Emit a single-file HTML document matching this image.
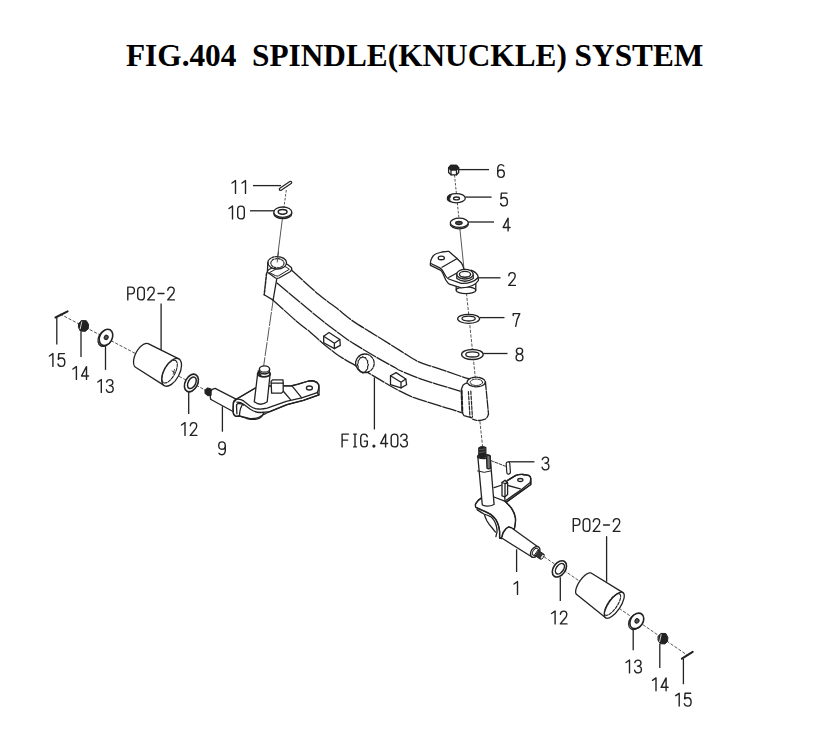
<!DOCTYPE html>
<html><head><meta charset="utf-8">
<style>
html,body{margin:0;padding:0;background:#fff;width:836px;height:744px;overflow:hidden}
#t{position:absolute;left:126px;top:39.7px;font-family:"Liberation Serif",serif;font-weight:bold;font-size:31.3px;white-space:pre;color:#000;line-height:1}
svg{position:absolute;left:0;top:0}
</style></head><body>
<div id="t">FIG.404  SPINDLE(KNUCKLE) SYSTEM</div>
<svg width="836" height="744" viewBox="0 0 836 744">
<defs>
<g id="d0"><path d="M0.7,3.8 Q0.7,0.6 4,0.6 Q7.3,0.6 7.3,3.8 L7.3,10.2 Q7.3,13.4 4,13.4 Q0.7,13.4 0.7,10.2 Z"/></g>
<g id="d1"><path d="M2,3 L5.5,0.6 L5.5,13.4"/></g>
<g id="d2"><path d="M0.8,3.8 Q1,0.6 4,0.6 Q7.2,0.6 7.2,3.9 Q7.2,6 5,8.3 L0.7,13.4 L7.4,13.4"/></g>
<g id="d3"><path d="M0.8,3 Q1.4,0.6 4,0.6 Q7,0.6 7,3.6 Q7,6.6 3.4,6.6 Q7.4,6.6 7.4,10 Q7.4,13.4 4,13.4 Q1.2,13.4 0.6,10.8"/></g>
<g id="d4"><path d="M5.6,13.4 L5.6,0.6 L0.6,10 L7.6,10"/></g>
<g id="d5"><path d="M7,0.6 L1.4,0.6 L0.9,6.2 Q2.2,5 4,5 Q7.4,5 7.4,9.2 Q7.4,13.4 4,13.4 Q1.2,13.4 0.6,11"/></g>
<g id="d6"><path d="M6.8,2 Q6,0.6 4,0.6 Q0.7,0.6 0.7,6 L0.7,10 Q0.7,13.4 4,13.4 Q7.3,13.4 7.3,9.6 Q7.3,6 4,6 Q0.7,6 0.7,9.6"/></g>
<g id="d7"><path d="M0.7,2.5 L0.7,0.6 L7.3,0.6 Q4,6 3.2,13.4"/></g>
<g id="d8"><path d="M4,6.6 Q0.9,6.6 0.9,3.6 Q0.9,0.6 4,0.6 Q7.1,0.6 7.1,3.6 Q7.1,6.6 4,6.6 Q0.6,6.6 0.6,10 Q0.6,13.4 4,13.4 Q7.4,13.4 7.4,10 Q7.4,6.6 4,6.6 Z"/></g>
<g id="d9"><path d="M7.3,4.2 Q7.3,8 4,8 Q0.7,8 0.7,4.3 Q0.7,0.6 4,0.6 Q7.3,0.6 7.3,4.5 L7.3,9 Q7.3,13.4 4,13.4 Q1.8,13.4 1,12"/></g>
<g id="gP"><path d="M0.8,13.4 L0.8,0.6 L4.2,0.6 Q7.4,0.6 7.4,4 Q7.4,7.4 4.2,7.4 L0.8,7.4"/></g>
<g id="gF"><path d="M7.2,0.6 L0.8,0.6 L0.8,13.4 M0.8,6.6 L6.4,6.6"/></g>
<g id="gI"><path d="M1.6,0.6 L4.4,0.6 M3,0.6 L3,13.4 M1.6,13.4 L4.4,13.4"/></g>
<g id="gG"><path d="M7.2,3.2 Q6.8,0.6 4,0.6 Q0.7,0.6 0.7,5 L0.7,9 Q0.7,13.4 4,13.4 Q7.3,13.4 7.3,10.5 L7.3,7.6 L4.4,7.6"/></g>
<g id="gdot"><circle cx="2.4" cy="12.6" r="0.9" fill="#222"/></g>
<g id="gmin"><path d="M1,7 L7,7"/></g>
</defs>

<!-- ========== LABELS ========== -->
<g fill="none" stroke="#222" stroke-width="1.4" stroke-linecap="round" stroke-linejoin="round">
<use href="#d1" x="230" y="180"/><use href="#d1" x="240" y="180"/>
<use href="#d1" x="227" y="205.5"/><use href="#d0" x="237" y="205.5"/>
<use href="#d6" x="497" y="164"/>
<use href="#d5" x="500" y="192.5"/>
<use href="#d4" x="502.5" y="217.5"/>
<use href="#d2" x="508" y="272"/>
<use href="#d7" x="512.5" y="313"/>
<use href="#d8" x="515.5" y="347.5"/>
<use href="#d3" x="541.5" y="456.5"/>
<use href="#gP" x="127" y="286.5"/><use href="#d0" x="137" y="286.5"/><use href="#d2" x="147" y="286.5"/><use href="#gmin" x="157" y="286.5"/><use href="#d2" x="167" y="286.5"/>
<use href="#d1" x="47.4" y="353"/><use href="#d5" x="57.4" y="353"/>
<use href="#d1" x="70.9" y="366"/><use href="#d4" x="80.9" y="366"/>
<use href="#d1" x="95.8" y="379"/><use href="#d3" x="105.8" y="379"/>
<use href="#d1" x="179.5" y="422"/><use href="#d2" x="189.5" y="422"/>
<use href="#d9" x="218" y="441.3"/>
<use href="#gF" x="341.3" y="433.5"/><use href="#gI" x="352" y="433.5"/><use href="#gG" x="360" y="433.5"/><use href="#gdot" x="371.5" y="433.5"/><use href="#d4" x="380" y="433.5"/><use href="#d0" x="390.5" y="433.5"/><use href="#d3" x="400" y="433.5"/>
<use href="#d1" x="512" y="581"/>
<use href="#d1" x="549.6" y="610.5"/><use href="#d2" x="559.6" y="610.5"/>
<use href="#gP" x="572.5" y="518"/><use href="#d0" x="582.5" y="518"/><use href="#d2" x="592.5" y="518"/><use href="#gmin" x="602.5" y="518"/><use href="#d2" x="612.5" y="518"/>
<use href="#d1" x="624" y="659.5"/><use href="#d3" x="634" y="659.5"/>
<use href="#d1" x="650.5" y="677.3"/><use href="#d4" x="660.5" y="677.3"/>
<use href="#d1" x="673.7" y="692.7"/><use href="#d5" x="683.7" y="692.7"/>
</g>

<!-- ========== LEADERS ========== -->
<g fill="none" stroke="#222" stroke-width="1.3">
<path d="M253,185.6 H281"/>
<path d="M250,210.8 H274"/>
<path d="M458.7,169.6 H489"/>
<path d="M465.3,197.1 H491.6"/>
<path d="M468.3,222 H494"/>
<path d="M478.8,277.8 H500.5"/>
<path d="M479.7,317.6 H504.5"/>
<path d="M483.3,353.5 H507.5"/>
<path d="M508.5,461.8 H534.4"/>
<path d="M161.1,303.4 V351"/>
<path d="M56.8,317.5 V344.4"/>
<path d="M81,331.6 V357.1"/>
<path d="M105.5,345.7 V369.9"/>
<path d="M188.7,391.8 V414.1"/>
<path d="M222.4,406.3 V431.7"/>
<path d="M374.4,377.4 V429.5"/>
<path d="M516.6,549.3 V572"/>
<path d="M560.3,577.3 V600.9"/>
<path d="M606.6,536.2 V581.7"/>
<path d="M633.2,628.6 V650.2"/>
<path d="M659.8,644 V668"/>
<path d="M683.4,658.7 V684.2"/>
</g>


<!-- CENTER LINES -->
<g fill="none" stroke="#444" stroke-width="0.9">
<path d="M286.3,190 L283.4,212" stroke-dasharray="2.6 1.4"/>
<path d="M282.6,217 L277.1,260.5"/>
<path d="M273.6,297 L263.5,367" stroke-dasharray="14 1.2"/>
<path d="M454.5,175 L458.9,218" stroke-dasharray="2.6 1.4"/>
<path d="M459.3,223 L464.3,272"/>
<path d="M465.5,284 L482.5,446" stroke-dasharray="3.2 1.4"/>
<path d="M60,314 L208,391.5" stroke-dasharray="3.2 1.6"/>
<path d="M540,554 L687,655" stroke-dasharray="3.2 1.6"/>
</g>
<g fill="none" stroke="#222" stroke-width="1.3" stroke-linejoin="round" stroke-linecap="round">
<g stroke-dasharray="14 1.6"><path d="M292,270.5 C296.4,274.47 310.97,288.03 318.4,294.3 C325.83,300.57 331.95,304.47 336.6,308.1 C341.25,311.73 343.2,313.68 346.3,316.1 C349.4,318.52 349.58,318.95 355.2,322.6 C360.82,326.25 372.38,333.25 380,338 C387.62,342.75 394.43,347.12 400.9,351.1 C407.37,355.08 413,359.15 418.8,361.9 C424.6,364.65 428.83,365.25 435.7,367.6 C442.57,369.95 454.28,374.1 460,376 C465.72,377.9 468.33,378.5 470,379"/><path d="M277,283 C280.83,286.22 292.83,296.33 300,302.3 C307.17,308.27 314.3,314.22 320,318.8 C325.7,323.38 329.82,326.48 334.2,329.8 C338.58,333.12 342.83,336.27 346.3,338.7 C349.77,341.13 349.52,341.03 355,344.4 C360.48,347.77 372.48,355.02 379.2,358.9 C385.92,362.78 391.83,365.77 395.3,367.7 C398.77,369.63 395.3,368.48 400,370.5 C404.7,372.52 413.5,376.37 423.5,379.8 C433.5,383.23 452.92,388.9 460,391.1 C467.08,393.3 465,392.68 466,393"/><path d="M272.8,299.9 C276.9,303.58 291.2,316.67 297.4,322 C303.6,327.33 305.88,328.45 310,331.9 C314.12,335.35 318.07,339.28 322.1,342.7 C326.13,346.12 330.57,349.7 334.2,352.4 C337.83,355.1 338.28,355.53 343.9,358.9 C349.52,362.27 360.4,368.25 367.9,372.6 C375.4,376.95 383.55,381.92 388.9,385 C394.25,388.08 395.8,388.98 400,391.1 C404.2,393.22 407.83,395.35 414.1,397.7 C420.37,400.05 431.62,403.33 437.6,405.2 C443.58,407.07 446.03,407.67 450,408.9 C453.97,410.13 459.5,411.98 461.4,412.6"/></g>
<path fill="#fff" d="M266.6,273 L264.2,294.8 L272.8,299.9 L276.7,279.2 Z" stroke="none"/><path d="M266.6,273 L264.2,294.8" stroke-dasharray="3 1.2" stroke-width="1.5"/><path d="M264.2,294.8 L272.8,299.9 M276.7,279.2 L273.2,299.5"/><path fill="#fff" d="M267.4,272.2 Q267,270.5 269,269.5 L281,263.5 Q284.5,262.5 287.6,264.5 L291.3,267.5 Q292.5,269.5 290.5,271.5 L279,278 Q277,278.6 275.5,278 Z"/><path d="M269.8,272.4 L281,266.3 Q283.5,265.5 286,267 L289.3,269.3 L278.6,275.8 Q277.2,276.5 275.8,275.8 Z" stroke-width="1"/><ellipse cx="277.2" cy="262.8" rx="9.35" ry="6.2" fill="#fff" stroke="none"/><path d="M277.2,256.6 A9.35,6.2 0 0 1 277.2,269 A9.35,6.2 0 0 1 267.85,262.8" /><path d="M267.85,262.8 A9.35,6.2 0 0 1 277.2,256.6" stroke-dasharray="2.2 1.3"/><ellipse cx="277.4" cy="263.2" rx="6.6" ry="4.6" stroke-dasharray="2.2 1.2" stroke-width="1.1"/><path d="M267.85,263 L267.4,271.5"/><path d="M278.6,252 L277.2,262" stroke="#444" stroke-width="0.9"/><path fill="#fff" stroke="none" d="M467,382.9 L463.1,385.1 L460.5,390.3 L461,412.2 L464,415.7 L471.9,417.9 L472.5,388 Z"/><path d="M467,382.9 Q464,384 463.1,385.1 L461.3,389.5 M461.9,412 L464,415.7 L471.9,417.9"/><path d="M461.6,390.5 L462.3,412.5" stroke-dasharray="3.6 1.8" stroke-width="2.1"/><path d="M468.4,391.5 L470,417 M470.8,391 L472.4,417" stroke-dasharray="3.4 1.6" stroke-width="1.2"/><path fill="#fff" stroke="none" d="M473,384 L474,419.2 Q478.5,421.5 485,419.2 L488.5,414 L485.4,381.6 Z"/><path d="M485.4,381.6 L488.5,414 Q487.5,418 485,419.2 Q481.5,420.6 478.8,420.5 Q475.5,420.4 472.7,419.2" stroke-dasharray="8 1.5"/><ellipse cx="476.2" cy="382" rx="9" ry="4.8" fill="#fff" stroke-dasharray="6 1.2"/><ellipse cx="476.4" cy="382.3" rx="6.2" ry="3.2" stroke-dasharray="2 1" stroke-width="1"/><path fill="#fff" d="M323.7,336.2 L329,332.5 L339.8,339.5 L340.3,345.4 L334.4,348.6 L323.7,342.7 Z"/><path d="M323.7,336.2 L334.4,343.2 L339.8,339.5 M334.4,343.2 L334.4,348.6"/><path fill="#fff" d="M390.5,375.8 L396.1,372.6 L405.8,379 L406.6,384.7 L401,387.9 L390.5,384.7 Z"/><path d="M390.5,375.8 L401,382.3 L405.8,379 M401,382.3 L401,387.9"/><ellipse cx="365" cy="363.3" rx="9.1" ry="9.2" fill="#fff" stroke="none"/><path d="M368.5,371.8 A9.1,9.2 0 0 1 356.3,366.5 A9.1,9.2 0 0 1 366.5,354.2"/><path d="M366.5,354.2 A9.1,9.2 0 0 1 368.5,371.8" stroke-dasharray="3 1.4"/><path stroke-width="1.15" stroke-dasharray="4 1" d="M368.4,364.8 L367.58,366.69 L367.66,368.95 L366.32,369.96 L365.65,371.99 L364.15,371.86 L362.9,373.1 L361.65,371.86 L360.15,371.99 L359.48,369.96 L358.14,368.95 L358.22,366.69 L357.4,364.8 L358.22,362.91 L358.14,360.65 L359.48,359.64 L360.15,357.61 L361.65,357.74 L362.9,356.5 L364.15,357.74 L365.65,357.61 L366.32,359.64 L367.66,360.65 L367.58,362.91 Z"/>
<path d="M280.5,189.2 L290.5,182.6" stroke="#222" stroke-width="3.6" stroke-linecap="round"/><path d="M280.5,189.2 L290.5,182.6" stroke="#fff" stroke-width="1.2" stroke-linecap="round"/><g fill="#fff"><ellipse cx="282.8" cy="213.4" rx="9" ry="5.2" /><ellipse cx="282.8" cy="212.2" rx="9" ry="5.2" /></g><ellipse cx="282.6" cy="211.8" rx="4.4" ry="2.4" stroke-width="1.5"/><path d="M448.6,168 L451,165.3 L456.5,165.3 L458.7,168 L458.7,172.5 L456.5,174.8 L451,174.8 L448.6,172.5 Z" fill="#fff"/><path d="M448.6,168 L451,165.3 L456.5,165.3 L458.7,168 L456.5,170 L451,170 Z" fill="#222"/><path d="M451,170 L451,174.8 M456.5,170 L456.5,174.8"/><g fill="#fff"><ellipse cx="456.3" cy="198.2" rx="9" ry="4.6" /></g><ellipse cx="456.5" cy="198.4" rx="3" ry="1.4" /><path fill="#222" d="M450,194.6 Q446.6,196.2 447.4,199.8 Q448,201.2 450.3,201.8 Q448.8,198.5 450.9,195.4 Z" stroke-width="0.8"/><g fill="#fff"><ellipse cx="459.3" cy="224.2" rx="9" ry="4.6" /><ellipse cx="459.3" cy="222.8" rx="9" ry="4.6" /></g><ellipse cx="458.9" cy="223" rx="3.2" ry="1.5" fill="#555"/><g fill="#fff"><ellipse cx="468.6" cy="318.8" rx="11" ry="4.5" /></g><ellipse cx="468.6" cy="318.6" rx="6.6" ry="2.4" /><g fill="#fff"><ellipse cx="472.4" cy="354.5" rx="10.8" ry="5" /></g><ellipse cx="472.4" cy="354.4" rx="6.6" ry="2.6" /><g fill="#fff"><ellipse cx="466" cy="290.2" rx="9.8" ry="3.4" /></g><path d="M456.2,284 L456.2,290.2 M475.8,284 L475.8,290.2"/><path fill="#fff" d="M431.7,258.3 Q433,255 436.8,253.5 L442,252 L448.7,251.3 L456.8,258.3 L461.2,262.7 L463.8,268.7 Q470,269.5 474,271.5 Q478.3,274 478.4,280.5 Q474,287 461.2,287.9 L449.4,284.2 L445.7,279.7 L442.7,273.1 L439.8,269.8 L430.5,265.3 Q430,261 431.7,258.3 Z" stroke="none"/><path d="M430.5,265.3 Q430,261 431.7,258.3 Q433,255 436.8,253.5 L442,252 Q446,251.2 448.7,251.3 L456.8,258.3 L461.2,262.7 Q463,265.5 463.8,268.7"/><path d="M430.9,263.5 L439.8,267.9 Q441.8,269 442.7,270.9 L445.7,276 Q447,278 448.7,279 L461.2,283.4 Q472,284 478.2,277.5"/><path d="M430.5,265.3 L439.8,269.8 Q441.8,271 442.7,273.1 L445.7,279.7 Q447.5,283 449.4,284.2 L461.2,287.9 Q474,287.5 478.4,280.5 L478.2,277.5 Q478,273 471,270.2"/><path d="M442,267.2 L456.8,258.7 M448.7,277.5 L458.3,272.3"/><ellipse cx="441.3" cy="257.9" rx="3.1" ry="1.85" /><path fill="#fff" d="M456.8,274.2 L456.8,278.5 Q465,284 473.2,278.5 L473.2,274.2 Z"/><g fill="#fff"><ellipse cx="465" cy="274.2" rx="8.2" ry="4.8" /></g><ellipse cx="465" cy="274.3" rx="5.6" ry="2.9" stroke-width="1.4"/>
<path fill="#fff" d="M215.1,388.4 L236.5,399.3 L233.5,411.8 L210.5,399.3 Z" stroke="none"/><path d="M215.1,388.4 L236.5,399.3 M210.5,399.3 L233.5,411.8 M215.1,388.4 Q211.5,389 210.6,391.5 L210.3,397.5 Q210.4,398.8 211.5,399.8"/><path fill="#222" d="M205,390.2 L207.8,388 L211,389.2 L211,395 L208,395.6 L205.2,393.2 Z"/><path fill="#fff" d="M236.5,399.3 L255,388.2 L269.4,386 L283.2,385.8 L291.3,385.8 L298.2,384.1 L308.6,381 L313.7,381 Q317.5,382 318.6,384.5 Q319.5,388 318.9,394.8 L303.4,400.4 L287,404.7 L269.8,411.6 Q264,414 262,415.5 Q258,419 250,418.6 L239.4,416 L236,416.4 L233.5,414.3 L233.1,409.3 L233.5,402.6 Z"/><path d="M236.9,398.8 L255.3,388 M283.2,385.8 L291.3,385.8 L298.2,384.1 L308.6,381 Q311,380.5 313.7,381 Q317.5,382 318.6,384.5 Q319.5,388 317.2,392.7 L318.9,394.8"/><path d="M236,399.3 Q240,398.5 243.6,400.9 L250,406 Q254,409 258.6,409 Q263,409.2 267.2,408.2 L286.2,401.3 L301.7,397.8 L317.2,392.7"/><path d="M236.9,402.2 Q240.5,402 243.6,404.3 L250,409 Q255,412.5 260.3,412.5 Q265,412.3 269.8,411.6 L287,404.7 L303.4,400.4 L318.9,394.8"/><path d="M239.4,416 L246.9,418.5 Q251,419.6 255.3,419.4 Q260,418.8 262,416.2 L263.8,412.5"/><path d="M236,399.3 Q233.3,400.5 233.3,403 L233.1,409.3 Q233,413.5 233.8,414.6 Q235,416.6 236.5,416.4 L239.4,416"/><path d="M236.9,413.8 L236.5,405.5 Q236.8,403.4 238.8,403.4 Q241.5,403.5 243.6,405.1 M242,405.3 Q240,408.5 239.8,412 L239.4,416"/><path d="M282.7,390.5 L290.5,399.6 M292.2,386.2 L301.7,397.8"/><ellipse cx="309.4" cy="388" rx="3" ry="2" /><path fill="#fff" d="M257.6,374 L254.3,401.7 Q260.5,406.8 267.2,401.7 L270.1,374 Z"/><ellipse cx="263.9" cy="373.9" rx="6.3" ry="2.9" fill="#fff" stroke-width="1.8"/><path fill="#fff" d="M259.4,369 L259.6,372.4 Q264.5,375.6 269.4,372.4 L269.6,369 Z"/><ellipse cx="264.5" cy="369" rx="5.1" ry="3.2" fill="#fff"/><path d="M258.6,371.2 Q258.4,373.8 260.6,375.2" stroke-width="2"/><path fill="#fff" d="M271.1,381.5 L272.5,379.8 L283,379.8 L283.2,383.5 L283.2,391.5 L281.5,393.1 L271.6,393.1 Z"/><path d="M271.3,383.2 L283.2,383.2"/>
<path d="M55.5,317.5 L67.6,311.4" stroke-width="2"/><path fill="#222" d="M78.8,323.6 L81.2,320.6 L86.3,320.7 L88.6,324.5 L88.2,328.8 L85.4,331.3 L80.3,331.1 L78.6,327.8 Z" stroke-width="1"/><path d="M81.8,321.8 L80.2,328.8" stroke="#e8e8e8" stroke-width="0.9"/><g fill="#fff"><ellipse cx="104.8" cy="338.3" rx="8.6" ry="6.2" transform="rotate(-62 104.8 338.3)" /><ellipse cx="106" cy="337.4" rx="8.6" ry="6.2" transform="rotate(-62 106 337.4)" stroke-width="1.6"/></g><ellipse cx="106.2" cy="337.4" rx="2.2" ry="1.9" transform="rotate(-62 106.2 337.4)" fill="#555" stroke-width="1.1"/><g fill="#fff"><path d="M148.67,343.91 L148.18,343.68 L147.66,343.53 L147.1,343.45 L146.51,343.44 L145.89,343.51 L145.25,343.65 L144.6,343.87 L143.93,344.17 L143.25,344.53 L142.56,344.96 L141.87,345.46 L141.19,346.02 L140.51,346.64 L139.84,347.32 L139.19,348.05 L138.56,348.82 L137.95,349.64 L137.37,350.5 L136.81,351.38 L136.29,352.3 L135.81,353.23 L135.37,354.18 L134.97,355.14 L134.62,356.11 L134.31,357.07 L134.06,358.02 L133.85,358.96 L133.7,359.88 L133.59,360.77 L133.55,361.63 L133.55,362.45 L133.61,363.24 L133.73,363.97 L133.89,364.66 L134.11,365.29 L134.38,365.86 L134.7,366.37 L135.06,366.81 L135.47,367.18 L135.93,367.49 L164.37,385.67 L164.92,385.93 L165.52,386.11 L166.15,386.2 L166.82,386.2 L167.52,386.12 L168.24,385.96 L168.98,385.71 L169.74,385.38 L170.51,384.96 L171.29,384.47 L172.07,383.91 L172.84,383.27 L173.61,382.56 L174.37,381.8 L175.1,380.97 L175.82,380.09 L176.51,379.16 L177.17,378.19 L177.8,377.18 L178.39,376.15 L178.93,375.09 L179.44,374.01 L179.89,372.92 L180.29,371.83 L180.64,370.74 L180.93,369.66 L181.17,368.59 L181.34,367.55 L181.46,366.54 L181.51,365.57 L181.51,364.63 L181.44,363.74 L181.31,362.91 L181.12,362.13 L180.88,361.42 L180.57,360.77 L180.21,360.2 L179.8,359.7 L179.34,359.27 L178.83,358.93 Z" fill="#fff" stroke="none"/><path d="M148.67,343.91 L148.18,343.68 L147.66,343.53 L147.1,343.45 L146.51,343.44 L145.89,343.51 L145.25,343.65 L144.6,343.87 L143.93,344.17 L143.25,344.53 L142.56,344.96 L141.87,345.46 L141.19,346.02 L140.51,346.64 L139.84,347.32 L139.19,348.05 L138.56,348.82 L137.95,349.64 L137.37,350.5 L136.81,351.38 L136.29,352.3 L135.81,353.23 L135.37,354.18 L134.97,355.14 L134.62,356.11 L134.31,357.07 L134.06,358.02 L133.85,358.96 L133.7,359.88 L133.59,360.77 L133.55,361.63 L133.55,362.45 L133.61,363.24 L133.73,363.97 L133.89,364.66 L134.11,365.29 L134.38,365.86 L134.7,366.37 L135.06,366.81 L135.47,367.18 L135.93,367.49 M148.67,343.91 L178.83,358.93 M135.93,367.49 L164.37,385.67" fill="none"/><ellipse cx="171.6" cy="372.3" rx="15.2" ry="7.8" transform="rotate(-62 171.6 372.3)" /></g><ellipse cx="169.6" cy="371.6" rx="12.6" ry="5.6" transform="rotate(-62 169.6 371.6)" stroke-dasharray="3 1.3" stroke-width="1.1"/><path d="M172,371 L175.5,372.8 M174.5,369.5 L173.2,374" stroke-width="0.8"/><g fill="#fff"><ellipse cx="191.4" cy="383" rx="9.4" ry="6.2" transform="rotate(-62 191.4 383)" stroke-width="1.6"/></g><ellipse cx="191.9" cy="382.8" rx="6.2" ry="3.7" transform="rotate(-62 191.9 382.8)" stroke-width="1.5"/>
<path fill="#fff" d="M507.2,480.6 L515.9,475.4 Q519,474.3 522.9,474.5 L528.6,475.4 Q530.8,476.5 530.8,478.4 L530.8,484.5 L505.4,502.9 L504,492 Z"/><path d="M507.2,480.6 L515.9,475.4 Q519,474.3 522.9,474.5 L528.6,475.4 Q530.8,476.5 530.8,478.4 Q530.6,481 529.9,482.8 L521.2,489.8 L512.4,495.9 L506.3,500.3 M530.8,478.8 L530.8,484.5 L505.4,502.9"/><path d="M494.1,487.6 L502,485 M507.6,485.4 L520.3,488.9"/><ellipse cx="520.3" cy="480" rx="2.6" ry="1.5" /><path fill="#fff" d="M481.1,498.1 Q477.4,500.3 475.5,504 Q475.3,507 475.9,507.4 L484.8,511.4 L490.7,514.4 L495.9,519.6 L498.5,525.5 L499.6,531.4 L499.6,538 L501.8,538 Q502.5,532 504,531.4 Q506,527.8 508.4,527 L514.3,529.2 Q516,521 515.5,518 Q514.5,511 509.9,506.3 L504.7,501.1 L494,497 Z"/><path d="M481.1,498.1 Q477.4,500.3 475.5,504 Q475.3,507 475.9,507.4 Q480,509.5 484.8,511.4 Q488,512.8 490.7,514.4 Q494,516.5 495.9,519.6 Q497.6,522 498.5,525.5 Q499.4,528.5 499.6,531.4 L499.6,538 L501.8,538.5"/><path d="M477,509.6 Q480.5,512 484,514 Q487.5,515.2 490.7,516.6 Q492.8,518.5 494.4,521 Q496,524 496.6,527 Q497.2,530 497,532.1 L495.9,536.6"/><path d="M484.4,514.8 Q485.5,518 487,521 Q489,524.5 491.4,527 L495.5,532.1"/><path d="M504.7,501.1 Q507.5,503.5 509.9,506.3 Q513,510 514.3,514.4 Q515.6,518 515.5,521 Q515.3,525.5 514.3,529.2"/><path d="M501.8,538 Q502.5,533.5 504,531.4 Q506,528 508.4,527 Q510,526.9 511.4,527.7"/><path fill="#fff" d="M477.9,457.5 L482.3,505 Q488,507.5 494.1,504.5 L490.2,457.5 Z"/><path d="M477.6,471 Q484,473.8 490.9,471" stroke-width="1"/><ellipse cx="483.9" cy="456.6" rx="6.4" ry="2.1" fill="#fff"/><path fill="#222" d="M478.8,448 Q482,445.6 485.8,447.5 L485.8,457 Q482,458.5 478.8,457 Z"/><path d="M479.5,449.8 L485,449 M479.5,452.5 L485,451.7" stroke="#888" stroke-width="0.6"/><path fill="#777" d="M486.6,456 Q488.4,454.8 490.2,456 L490.6,468 Q488.8,469.6 487,468.3 Z" stroke-width="1.4"/><path fill="#fff" d="M502,482.5 L505,480.2 L507.6,483 L507.6,494.5 L505,496.8 L502,495.8 Z"/><path d="M505,483.5 L505,496.5 M502,482.5 L505,483.5 L507.6,483"/><path fill="#fff" stroke="none" d="M511.4,527.7 L538.8,547.5 L532,557 L501.8,538 Z"/><path d="M511.4,527.7 L538.8,547.5 M501.8,538 L532,557"/><ellipse cx="535.2" cy="551.9" rx="6" ry="4" transform="rotate(-55 535.2 551.9)" fill="#fff" stroke-width="1.4"/><ellipse cx="535.5" cy="552" rx="3.9" ry="2.6" transform="rotate(-55 535.5 552)" stroke-width="1"/><path fill="#333" d="M538.2,550.3 L543.7,554.1 L540.3,559.2 L534.8,555.4 Z" stroke-width="1"/><ellipse cx="542.2" cy="556.7" rx="3" ry="1.4" transform="rotate(-55 542.2 556.7)" fill="#ddd" stroke-width="0.9"/><path d="M490.6,460.5 L505.4,466.2" stroke="#333" stroke-width="1" stroke-dasharray="3 1.5"/><path d="M508,463.6 L508.6,472.3" stroke="#222" stroke-width="4.8" stroke-linecap="round"/><path d="M508,463.6 L508.6,472.3" stroke="#fff" stroke-width="2.4" stroke-linecap="round"/>
<g fill="#fff"><ellipse cx="559.4" cy="568.9" rx="9" ry="6" transform="rotate(-55 559.4 568.9)" stroke-width="1.6"/></g><ellipse cx="559.9" cy="568.7" rx="5.9" ry="3.6" transform="rotate(-55 559.9 568.7)" stroke-width="1.5"/><g fill="#fff"><path d="M591.48,573.2 L591.13,573 L590.74,572.87 L590.31,572.81 L589.83,572.82 L589.33,572.89 L588.79,573.03 L588.22,573.24 L587.62,573.52 L587.01,573.85 L586.37,574.26 L585.73,574.72 L585.07,575.23 L584.4,575.8 L583.74,576.42 L583.07,577.09 L582.42,577.8 L581.77,578.54 L581.14,579.32 L580.52,580.13 L579.93,580.96 L579.37,581.81 L578.83,582.67 L578.32,583.54 L577.85,584.41 L577.42,585.28 L577.03,586.14 L576.69,586.98 L576.39,587.81 L576.14,588.61 L575.93,589.39 L575.78,590.13 L575.68,590.83 L575.63,591.49 L575.63,592.1 L575.68,592.66 L575.79,593.17 L575.95,593.62 L576.16,594.01 L576.41,594.34 L576.72,594.6 L605.61,617.79 L606.02,618.03 L606.48,618.18 L607,618.25 L607.55,618.25 L608.15,618.16 L608.78,617.99 L609.45,617.74 L610.15,617.42 L610.88,617.02 L611.62,616.55 L612.39,616.01 L613.16,615.4 L613.94,614.73 L614.72,614 L615.5,613.21 L616.28,612.38 L617.04,611.5 L617.78,610.59 L618.51,609.64 L619.2,608.66 L619.87,607.66 L620.5,606.65 L621.1,605.62 L621.65,604.6 L622.16,603.58 L622.61,602.56 L623.02,601.57 L623.37,600.6 L623.67,599.65 L623.91,598.74 L624.09,597.87 L624.21,597.04 L624.27,596.27 L624.27,595.55 L624.2,594.89 L624.08,594.29 L623.89,593.76 L623.65,593.3 L623.35,592.92 L622.99,592.61 Z" fill="#fff" stroke="none"/><path d="M591.48,573.2 L591.13,573 L590.74,572.87 L590.31,572.81 L589.83,572.82 L589.33,572.89 L588.79,573.03 L588.22,573.24 L587.62,573.52 L587.01,573.85 L586.37,574.26 L585.73,574.72 L585.07,575.23 L584.4,575.8 L583.74,576.42 L583.07,577.09 L582.42,577.8 L581.77,578.54 L581.14,579.32 L580.52,580.13 L579.93,580.96 L579.37,581.81 L578.83,582.67 L578.32,583.54 L577.85,584.41 L577.42,585.28 L577.03,586.14 L576.69,586.98 L576.39,587.81 L576.14,588.61 L575.93,589.39 L575.78,590.13 L575.68,590.83 L575.63,591.49 L575.63,592.1 L575.68,592.66 L575.79,593.17 L575.95,593.62 L576.16,594.01 L576.41,594.34 L576.72,594.6 M591.48,573.2 L622.99,592.61 M576.72,594.6 L605.61,617.79" fill="none"/><ellipse cx="614.3" cy="605.2" rx="15.3" ry="6" transform="rotate(-55.5 614.3 605.2)" /></g><ellipse cx="612.5" cy="604.5" rx="12.8" ry="4.6" transform="rotate(-55.5 612.5 604.5)" stroke-dasharray="3 1.3" stroke-width="1.1"/><g fill="#fff"><ellipse cx="635.6" cy="621.8" rx="8.4" ry="6.2" transform="rotate(-55 635.6 621.8)" /><ellipse cx="636.8" cy="620.9" rx="8.4" ry="6.2" transform="rotate(-55 636.8 620.9)" stroke-width="1.6"/></g><ellipse cx="637" cy="620.9" rx="2.2" ry="1.9" transform="rotate(-55 637 620.9)" fill="#555" stroke-width="1.1"/><path fill="#222" d="M658.3,636.2 L660.8,633.4 L665.8,633.5 L667.9,637.4 L667.5,641.5 L664.9,643.9 L660.1,643.7 L658.2,640.4 Z" stroke-width="1"/><path d="M661.2,634.6 L659.6,641.6" stroke="#e8e8e8" stroke-width="0.9"/><path d="M681.9,658.7 L692.7,651.8" stroke-width="2"/>
</g>
</svg>
</body></html>
